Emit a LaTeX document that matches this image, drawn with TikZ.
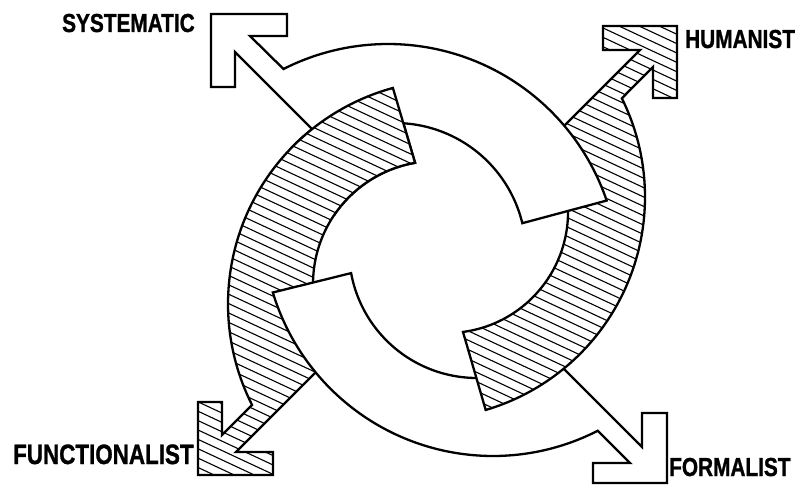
\documentclass[tikz,border=0pt]{standalone}
\usepackage{fontspec}
\usepackage{graphicx}
\setmainfont{Liberation Sans}
\newfontfamily\labfont[FakeBold=1.2]{Liberation Sans Bold}
\usetikzlibrary{calc}
\begin{document}
\begin{tikzpicture}[x=1pt,y=-1pt,
  bandline/.style={draw=black, line width=2.3pt, line join=miter, miter limit=4},
  hatchline/.style={line width=1.1pt, draw=black},
  lab/.style={inner sep=0pt, anchor=base west, font=\labfont\fontsize{26}{26}\selectfont}]
\useasboundingbox (0,0) rectangle (797,487);
\fill[white] (0,0) rectangle (797,487);
% circle centres
\coordinate (Co1) at (388,275); \coordinate (Ci1) at (395,254);
\coordinate (Co2) at (423,197); \coordinate (Ci2) at (447,212);
\coordinate (Co3) at (493,226); \coordinate (Ci3) at (477,250);
\coordinate (Co4) at (452,304); \coordinate (Ci4) at (436,284);
% band outlines
\def\pathWone{($(Ci1)+(-121.9:131)$) -- (235,52) -- (235,87) -- (211,87) -- (211,14) -- (287,14) -- (287,36) -- (250,36)
  -- ($(Co1)+(-116.9:231)$) arc[start angle=-116.9, end angle=-18.8, radius=231]
  -- ($(Ci1)+(-13.6:131)$) arc[start angle=-13.6, end angle=-121.9, radius=131] -- cycle}
\def\pathHone{(653,67) -- ($(Co2)+(-26.4:222)$) arc[start angle=-26.4, end angle=73.6, radius=222]
  -- ($(Ci2)+(82.4:121)$) arc[start angle=82.4, end angle=-34.6, radius=121]
  -- (640,50) -- (603,50) -- (603,26) -- (677,26) -- (677,98) -- (653,98) -- cycle}
\def\pathWtwo{(630,463) -- ($(Co3)+(62.9:230)$) arc[start angle=62.9, end angle=163.2, radius=230]
  -- ($(Ci3)+(169.6:128)$) arc[start angle=169.6, end angle=55.2, radius=128]
  -- (642,447) -- (642,413) -- (667,413) -- (667,483) -- (593,483) -- (593,463) -- cycle}
\def\pathHtwo{(222,435) -- ($(Co4)+(153.2:224)$) arc[start angle=153.2, end angle=254.7, radius=224]
  -- ($(Ci4)+(260.2:123)$) arc[start angle=260.2, end angle=145.6, radius=123]
  -- (236,452) -- (273,452) -- (273,475) -- (198,475) -- (198,402) -- (222,402) -- cycle}
\newcommand\hatchband[1]{%
  \fill[white] #1;
  \begin{scope}
    \clip #1;
    \begin{scope}[rotate=-25]
      \foreach \k in {-41,...,53} \draw[hatchline] (-20,\k*8.5) -- (950,\k*8.5);
    \end{scope}
  \end{scope}
  \draw[bandline] #1;}
% layering: H2, W2, H1, W1, then H2 tip again
\hatchband{\pathHtwo}
\filldraw[bandline, fill=white] \pathWtwo;
\hatchband{\pathHone}
\filldraw[bandline, fill=white] \pathWone;
\begin{scope}
  \clip (290,60) rectangle (440,215);
  \hatchband{\pathHtwo}
\end{scope}
% labels
\node[lab] (systematic) at (62,32) {\scalebox{0.8}[1]{SYSTEMATIC}};
\node[lab] (humanist) at (685,48) {\scalebox{0.8}[1]{HUMANIST}};
\node[lab] (formalist) at (669,476) {\scalebox{0.8}[1]{FORMALIST}};
\node[lab, font=\labfont\fontsize{28}{28}\selectfont] (functionalist) at (13,464) {\scalebox{0.8}[1]{FUNCTIONALIST}};
\end{tikzpicture}
\end{document}
